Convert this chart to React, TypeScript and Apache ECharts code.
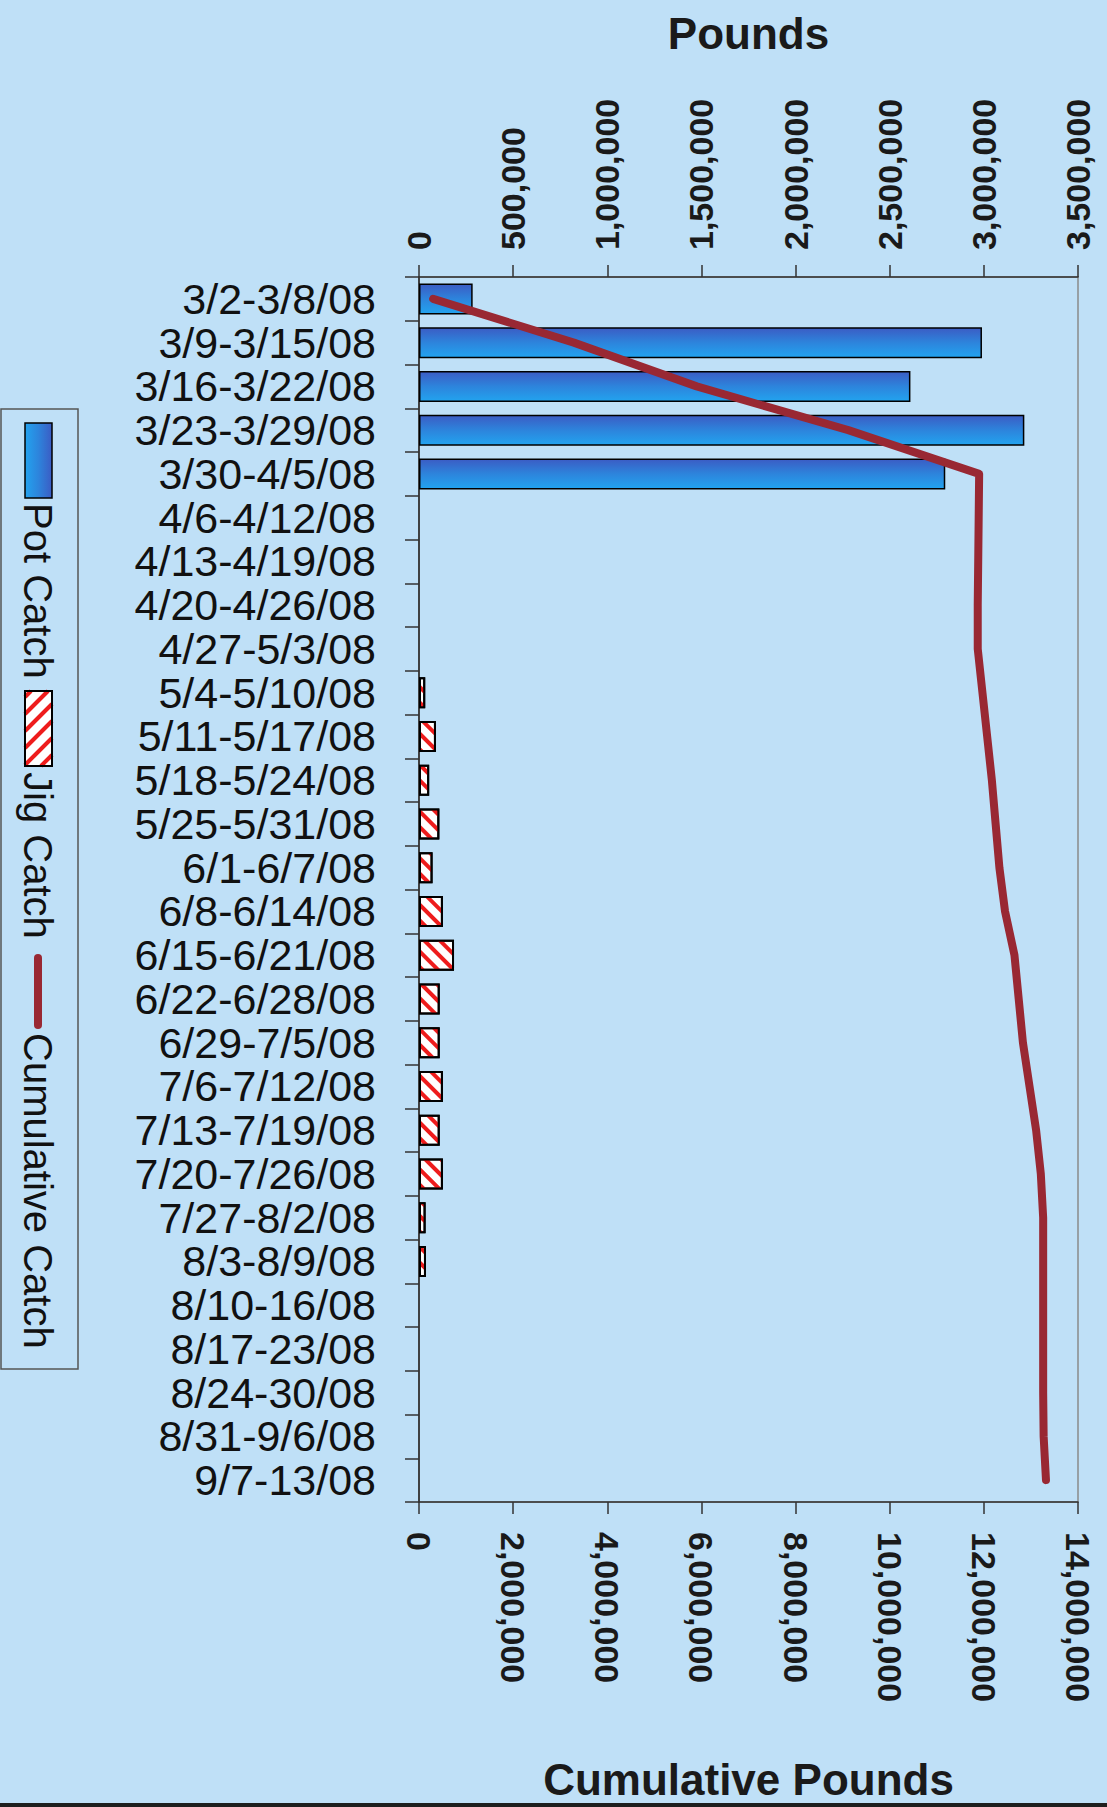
import React, { useEffect, useRef } from "react";
import * as echarts from "echarts";

const categories = [
  "3/2-3/8/08", "3/9-3/15/08", "3/16-3/22/08", "3/23-3/29/08", "3/30-4/5/08",
  "4/6-4/12/08", "4/13-4/19/08", "4/20-4/26/08", "4/27-5/3/08", "5/4-5/10/08",
  "5/11-5/17/08", "5/18-5/24/08", "5/25-5/31/08", "6/1-6/7/08", "6/8-6/14/08",
  "6/15-6/21/08", "6/22-6/28/08", "6/29-7/5/08", "7/6-7/12/08", "7/13-7/19/08",
  "7/20-7/26/08", "7/27-8/2/08", "8/3-8/9/08", "8/10-16/08", "8/17-23/08",
  "8/24-30/08", "8/31-9/6/08", "9/7-13/08",
];

const potCatch = [
  285000, 2990000, 2610000, 3215000, 2795000,
  null, null, null, null, null, null, null, null, null, null, null, null, null,
  null, null, null, null, null, null, null, null, null, null,
];

const jigCatch = [
  null, null, null, null, null, null, null, null, null,
  33000, 90000, 54000, 108000, 72000, 127000, 186000, 110000, 110000, 127000,
  110000, 127000, 35000, 37000,
  null, null, null, null, null,
];

const cumulativeCatch = [
  300000, 3290000, 5900000, 9120000, 11900000, 11890000, 11880000, 11870000,
  11870000, 11970000, 12070000, 12170000, 12250000, 12330000, 12450000,
  12650000, 12740000, 12830000, 12970000, 13110000, 13210000, 13260000,
  13260000, 13260000, 13260000, 13260000, 13270000, 13320000,
];

const poundsTicks = { min: 0, max: 3500000, interval: 500000 };
const cumulativeTicks = { min: 0, max: 14000000, interval: 2000000 };

const BG = "#bfe0f7";
const LINE_RED = "#992833";
const SANS = '"Liberation Sans", Arial, sans-serif';

const potGradient = () =>
  new echarts.graphic.LinearGradient(0, 0, 0, 1, [
    { offset: 0, color: "#3b5cc4" },
    { offset: 0.5, color: "#2d84dc" },
    { offset: 1, color: "#22a3ef" },
  ]);

function jigLegendStripes() {
  const x0 = 25, x1 = 52, y0 = 691, y1 = 766;
  const out: any[] = [];
  for (let c = x0 + y0 + 6; c < x1 + y1; c += 17) {
    const xa = Math.max(x0, c - y1);
    const xb = Math.min(x1, c - y0);
    if (xb - xa > 1) {
      out.push({
        type: "line",
        shape: { x1: xa, y1: c - xa, x2: xb, y2: c - xb },
        style: { stroke: "#ee1c1c", lineWidth: 4 },
        z: 10,
      });
    }
  }
  return out;
}

export default function App() {
  const ref = useRef<HTMLDivElement>(null);

  useEffect(() => {
    document.body.style.margin = "0";
    document.body.style.background = BG;
    const chart = echarts.init(ref.current!, null, { renderer: "svg" });

    const fmt = (v: number) => v.toLocaleString("en-US");

    chart.setOption({
      animation: false,
      backgroundColor: BG,
      grid: {
        left: 419,
        top: 277,
        width: 659,
        height: 1225,
        show: true,
        borderColor: "#8a8a8a",
        borderWidth: 1.5,
        backgroundColor: "transparent",
        containLabel: false,
      },
      xAxis: [
        {
          type: "value",
          position: "top",
          min: poundsTicks.min,
          max: poundsTicks.max,
          interval: poundsTicks.interval,
          name: "Pounds",
          nameLocation: "middle",
          nameGap: 222,
          nameTextStyle: { fontFamily: SANS, fontWeight: "bold", fontSize: 44, color: "#1a1a1a" },
          axisLine: { show: true, lineStyle: { color: "#333", width: 1.5 } },
          axisTick: { show: true, inside: false, length: 12, lineStyle: { color: "#333", width: 1.5 } },
          splitLine: { show: false },
          axisLabel: {
            rotate: -90,
            margin: 27,
            formatter: fmt,
            fontFamily: SANS,
            fontWeight: "bold",
            fontSize: 34,
            color: "#1a1a1a",
          },
        },
        {
          type: "value",
          position: "bottom",
          min: cumulativeTicks.min,
          max: cumulativeTicks.max,
          interval: cumulativeTicks.interval,
          name: "Cumulative Pounds",
          nameLocation: "middle",
          nameGap: 255,
          nameTextStyle: { fontFamily: SANS, fontWeight: "bold", fontSize: 44, color: "#1a1a1a" },
          axisLine: { show: true, lineStyle: { color: "#333", width: 1.5 } },
          axisTick: { show: true, inside: false, length: 12, lineStyle: { color: "#333", width: 1.5 } },
          splitLine: { show: false },
          axisLabel: {
            rotate: -90,
            margin: 30,
            formatter: fmt,
            fontFamily: SANS,
            fontWeight: "bold",
            fontSize: 34,
            color: "#1a1a1a",
          },
        },
      ],
      yAxis: {
        type: "category",
        inverse: true,
        data: categories,
        axisLine: { show: true, lineStyle: { color: "#222", width: 1.5 } },
        axisTick: { show: true, inside: false, length: 14, interval: 0, alignWithLabel: false, lineStyle: { color: "#333", width: 1.5 } },
        splitLine: { show: false },
        axisLabel: {
          interval: 0,
          margin: 43,
          fontFamily: SANS,
          fontSize: 43,
          color: "#111",
          padding: [10, 0, 0, 0],
        },
      },
      series: [
        {
          name: "Pot Catch",
          type: "bar",
          xAxisIndex: 0,
          data: potCatch,
          barWidth: 31,
          barGap: "-100%",
          itemStyle: { color: potGradient(), borderColor: "#000", borderWidth: 1.5 },
        },
        {
          name: "Jig Catch",
          type: "bar",
          xAxisIndex: 0,
          data: jigCatch,
          barWidth: 31,
          barGap: "-100%",
          itemStyle: {
            color: "#ffffff",
            borderColor: "#000",
            borderWidth: 2,
            decal: {
              symbol: "rect",
              color: "#ee1c1c",
              dashArrayX: [1, 0],
              dashArrayY: [4, 7],
              rotation: Math.PI / 4,
            },
          },
        },
        {
          name: "Cumulative Catch",
          type: "line",
          xAxisIndex: 1,
          data: cumulativeCatch,
          symbol: "none",
          z: 5,
          lineStyle: { color: LINE_RED, width: 8, cap: "round", join: "round" },
          itemStyle: { color: LINE_RED },
        },
      ],
      graphic: [
        {
          type: "rect",
          shape: { x: 1, y: 409, width: 77, height: 960 },
          style: { fill: "transparent", stroke: "#555", lineWidth: 1.5 },
        },
        {
          type: "rect",
          shape: { x: 25, y: 423, width: 27, height: 75 },
          style: {
            fill: new echarts.graphic.LinearGradient(1, 0, 0, 0, [
              { offset: 0, color: "#3b5cc4" },
              { offset: 0.5, color: "#2d84dc" },
              { offset: 1, color: "#22a3ef" },
            ]),
            stroke: "#000",
            lineWidth: 1.5,
          },
        },
        {
          type: "text",
          x: 38,
          y: 503,
          rotation: -Math.PI / 2,
          style: { text: "Pot Catch", x: 0, y: 0, align: "left", verticalAlign: "middle", font: '40px "Liberation Sans", Arial, sans-serif', fill: "#111" },
        },
        {
          type: "rect",
          shape: { x: 25, y: 691, width: 27, height: 75 },
          style: { fill: "#ffffff", stroke: "none" },
          z: 5,
        },
        ...jigLegendStripes(),
        {
          type: "rect",
          shape: { x: 25, y: 691, width: 27, height: 75 },
          style: { fill: "transparent", stroke: "#000", lineWidth: 2 },
          z: 20,
        },
        {
          type: "text",
          x: 38,
          y: 772,
          rotation: -Math.PI / 2,
          style: { text: "Jig Catch", x: 0, y: 0, align: "left", verticalAlign: "middle", font: '40px "Liberation Sans", Arial, sans-serif', fill: "#111" },
        },
        {
          type: "line",
          shape: { x1: 38, y1: 958, x2: 38, y2: 1025 },
          style: { stroke: LINE_RED, lineWidth: 8, lineCap: "round" },
        },
        {
          type: "text",
          x: 38,
          y: 1033,
          rotation: -Math.PI / 2,
          style: { text: "Cumulative Catch", x: 0, y: 0, align: "left", verticalAlign: "middle", font: '40px "Liberation Sans", Arial, sans-serif', fill: "#111" },
        },
        {
          type: "rect",
          shape: { x: 0, y: 1803, width: 1107, height: 4 },
          style: { fill: "#1e1e1e" },
        },
      ],
    });

    return () => chart.dispose();
  }, []);

  return <div ref={ref} style={{ width: 1107, height: 1807, background: BG }} />;
}
